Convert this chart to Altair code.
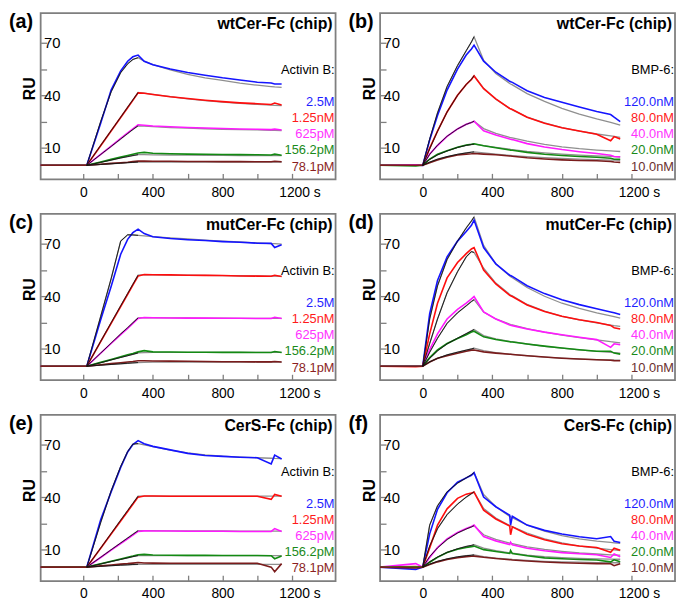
import altair as alt
import pandas as pd

# ---------------- time grids (s) ----------------
T_ACT = [-245, 20, 100, 160, 215, 255, 285, 315, 350, 400, 500, 600, 700, 800, 900, 1000, 1080, 1100, 1140]
T_BMP = [-245, -40, 0, 40, 85, 140, 200, 250, 280, 295, 350, 420, 500, 505, 515, 600, 700, 800, 900, 1000, 1080, 1100, 1135]

ACT_LABELS = ["2.5M", "1.25nM", "625pM", "156.2pM", "78.1pM"]
BMP_LABELS = ["120.0nM", "80.0nM", "40.0nM", "20.0nM", "10.0nM"]

# ---------------- (a) wtCer-Fc, Activin B ----------------
a_blue = [0, 0, 24, 43, 54, 59.5, 62, 63, 59.5, 57.5, 55, 53, 51.5, 50, 48.8, 47.5, 47, 46.5, 46.5]
a_red = [0, 0, 11.2, 19.6, 27.3, 32.9, 37.1, 41.4, 41.2, 40.5, 39.2, 38.2, 37.2, 36.4, 35.7, 35.2, 34.8, 35.6, 34.5]
a_mag = [0, 0, 6.3, 11, 15.4, 18.5, 20.9, 23.2, 22.9, 22.5, 22, 21.6, 21.3, 21, 20.8, 20.6, 20.4, 20.7, 20.2]
a_grn = [0, 0, 1.9, 3.4, 4.7, 5.6, 6.3, 7.0, 7.4, 6.9, 6.6, 6.4, 6.3, 6.2, 6.1, 6.0, 5.9, 6.4, 5.8]
a_drd = [0, 0, 0.6, 1.1, 1.5, 1.8, 2.1, 2.4, 2.4, 2.3, 2.3, 2.2, 2.2, 2.1, 2.1, 2.0, 2.0, 2.3, 2.0]
a_blue_fit = [0, 25, 42, 53, 58, 60.5, 61.5, 59.5, 57.5, 54.5, 52, 50, 48.5, 47, 45.8, 45, 44.8, 44.5]
a_red_fit = [0, 11.4, 19.8, 27.5, 33.2, 37.4, 41.6, 41.3, 40.6, 39.2, 38.0, 37.0, 36.1, 35.4, 34.8, 34.4, 34.3, 34.1]
a_mag_fit = [0, 6.2, 10.8, 15.1, 18.2, 20.5, 22.6, 22.4, 22.1, 21.6, 21.2, 20.9, 20.6, 20.4, 20.2, 20.0, 20.0, 19.9]
a_grn_fit = [0, 1.7, 3.0, 4.2, 5.0, 5.6, 6.1, 6.1, 6.0, 5.9, 5.8, 5.7, 5.7, 5.6, 5.6, 5.5, 5.5, 5.5]
a_drd_fit = [0, 0.5, 0.9, 1.2, 1.5, 1.7, 1.9, 1.9, 1.9, 1.9, 1.9, 1.9, 1.9, 1.9, 1.9, 1.9, 1.9, 1.9]

# ---------------- (b) wtCer-Fc, BMP-6 ----------------
b_blue = [0, 0.3, 0, 14.5, 28.5, 43, 55, 63, 66.5, 68.7, 59.5, 53.2, 48, 47.8, 47.4, 42.6, 38.8, 36, 33.3, 30.8, 29, 27.5, 25]
b_red = [0, 0, 0, 9.8, 19.5, 30.5, 40, 46.2, 49, 51.1, 43.8, 38, 32.5, 32.3, 31.9, 27.5, 24, 21.5, 19.6, 17.8, 14, 16.4, 15]
b_mag = [0, 0.2, 0, 6.5, 11.3, 16.5, 20.8, 23.5, 24.4, 25.2, 19.7, 17.3, 15, 14.9, 14.7, 12.4, 10.5, 9, 7.8, 6.8, 5.8, 5, 4.8]
b_grn = [0, -0.3, 0, 3.6, 6.3, 8.3, 10.3, 11.6, 12, 12.3, 11.2, 10, 8.8, 8.7, 8.6, 7.4, 6.3, 5.6, 5, 4.6, 4, 3.5, 3.5]
b_drd = [0, 0, 0, 1.5, 3.0, 4.6, 5.9, 6.4, 6.6, 6.8, 6.4, 6.0, 5.3, 5.3, 5.2, 4.3, 3.6, 3.1, 2.8, 2.6, 2.2, 1.9, 1.7]
b_blue_fit = [0, 15, 30, 45, 57, 65.5, 70.5, 73.5, 60, 52.5, 46.8, 46.5, 46, 41, 36.5, 32.5, 29.3, 26.5, 24.5, 24, 23]
b_red_fit = [0, 9.5, 19.5, 30.5, 40, 46.2, 49.2, 51.2, 44, 37.8, 32.5, 32.2, 31.7, 27.6, 24.2, 21.6, 19.6, 17.9, 16.8, 16.5, 16]
b_mag_fit = [0, 6.3, 11.5, 16.6, 20.8, 23.4, 24.5, 25.2, 21, 18.3, 16, 15.9, 15.7, 13.8, 12, 10.6, 9.5, 8.7, 8.2, 8.1, 7.9]
b_grn_fit = [0, 3.4, 6.0, 8.2, 10.2, 11.4, 11.9, 12.1, 11.2, 10.2, 9.2, 9.1, 9.0, 8.0, 7.1, 6.4, 5.8, 5.4, 5.1, 5.0, 4.9]
b_drd_fit = [0, 1.8, 3.5, 5.0, 6.3, 7.1, 7.5, 7.7, 7.1, 6.4, 5.7, 5.7, 5.6, 5.0, 4.4, 3.9, 3.5, 3.2, 3.0, 3.0, 2.9]

# ---------------- (c) mutCer-Fc, Activin B ----------------
c_blue = [0, 0, 26.5, 45.5, 64, 72.5, 76.3, 78.3, 75.8, 74, 73, 72.3, 71.8, 71.2, 70.8, 70.3, 70.2, 67.8, 69.4]
c_red = [0, 0, 14, 24.5, 34.1, 41.1, 46.3, 51.5, 52.4, 52.3, 52.2, 52.0, 51.9, 51.8, 51.6, 51.5, 51.4, 52.0, 51.3]
c_mag = [0, 0, 7.4, 13, 18.1, 21.6, 24.4, 27.3, 27.8, 27.7, 27.6, 27.5, 27.5, 27.4, 27.4, 27.3, 27.3, 28.0, 27.3]
c_grn = [0, 0, 2.2, 3.9, 5.4, 6.5, 7.3, 8.2, 8.9, 8.2, 8.1, 8.0, 8.0, 7.9, 7.9, 7.8, 7.8, 8.4, 7.8]
c_drd = [0, 0, 0.8, 1.5, 2.0, 2.4, 2.7, 3.1, 3.1, 3.0, 2.9, 2.8, 2.7, 2.6, 2.6, 2.5, 2.5, 2.7, 2.4]
c_blue_fit = [0, 28.5, 50, 71.5, 75.1, 75.0, 74.8, 74.5, 74.1, 73.4, 72.7, 72.1, 71.5, 71.0, 70.5, 70.1, 70.0, 69.8]
c_red_fit = [0, 14.2, 24.8, 34.5, 41.5, 46.8, 52.0, 52.3, 52.2, 52.1, 52.0, 51.9, 51.8, 51.7, 51.6, 51.5, 51.5, 51.4]
c_mag_fit = [0, 7.5, 13.2, 18.4, 22.0, 24.8, 27.6, 27.7, 27.7, 27.6, 27.6, 27.5, 27.5, 27.4, 27.4, 27.4, 27.3, 27.3]
c_grn_fit = [0, 2.0, 3.6, 5.0, 6.0, 6.8, 7.6, 7.8, 7.9, 7.9, 7.9, 7.9, 7.9, 7.9, 7.9, 7.9, 7.9, 7.9]
c_drd_fit = [0, 0.6, 1.0, 1.4, 1.7, 1.9, 2.1, 2.2, 2.3, 2.3, 2.3, 2.3, 2.3, 2.3, 2.3, 2.3, 2.3, 2.3]

# ---------------- (d) mutCer-Fc, BMP-6 ----------------
d_blue = [0, 0, 0, 30, 49, 62.5, 71.5, 77, 80.5, 83.5, 67.8, 58.5, 52, 51.8, 51.3, 46, 41.5, 38, 35.2, 32.8, 31, 30.5, 29.5]
d_red = [0, -0.3, 0, 18.5, 36, 50.5, 59.3, 64.3, 67, 67.8, 55, 47, 40.5, 40.3, 39.8, 35, 31.3, 28.5, 26.6, 25, 23.3, 22, 21.3]
d_mag = [0, 0, 0, 9.5, 18.5, 27, 32.5, 36, 38.5, 39.8, 31, 27, 23.5, 23.4, 23.2, 21.3, 19.5, 18, 16.6, 15.2, 10.8, 12.8, 12.3]
d_grn = [0, 0, 0, 5, 9.3, 13, 15.8, 18, 19.5, 20, 16.8, 15.3, 14, 13.9, 13.8, 12.7, 11.5, 10.4, 9.4, 8.6, 8.6, 7.5, 6.9]
d_drd = [0, 0, 0, 2.4, 4.6, 6, 7.4, 8.5, 9.2, 9.3, 8.2, 7.5, 6.8, 6.8, 6.7, 6, 5.3, 4.6, 4.1, 3.7, 3.4, 3.2, 3.1]
d_blue_fit = [0, 27, 46, 61, 71.5, 79, 83, 85.3, 69, 58.5, 51.5, 51.2, 50.6, 45, 40, 36, 33, 30.5, 28.8, 28.3, 27.5]
d_red_fit = [0, 13, 27, 42, 54, 62.5, 65.5, 65, 56, 47.5, 41, 40.7, 40.2, 35.3, 31.5, 28.5, 26.5, 24.8, 23.5, 23.2, 22.8]
d_mag_fit = [0, 8, 16, 24.5, 30.5, 34.5, 37, 38, 31, 27, 24, 23.8, 23.6, 21.5, 19.5, 17.8, 16.3, 15, 14, 13.8, 13.4]
d_grn_fit = [0, 4.5, 8.8, 12.8, 16, 18.6, 20.2, 21, 17.5, 15.6, 14.2, 14.1, 14.0, 12.7, 11.4, 10.3, 9.3, 8.5, 7.9, 7.8, 7.5]
d_drd_fit = [0, 2.5, 4.5, 6.5, 8.0, 9.2, 9.9, 10.3, 8.9, 7.8, 6.9, 6.9, 6.8, 6.0, 5.2, 4.6, 4.1, 3.8, 3.6, 3.5, 3.5]

# ---------------- (e) CerS-Fc, Activin B ----------------
e_blue = [0, 0, 27, 43, 57, 65.8, 70, 72.3, 70.5, 69, 67, 65, 63.8, 63.3, 62.8, 62.5, 59, 64, 61.8]
e_red = [0, 0, 10.8, 18.9, 26.4, 31.8, 35.9, 40.0, 40.6, 40.6, 40.5, 40.5, 40.5, 40.5, 40.5, 40.5, 38.7, 41.5, 40.5]
e_mag = [0, 0, 5.5, 9.7, 13.5, 16.2, 18.3, 20.4, 20.7, 20.6, 20.6, 20.5, 20.5, 20.5, 20.4, 20.4, 20.4, 22.0, 20.3]
e_grn = [0, 0, 1.9, 3.4, 4.7, 5.6, 6.3, 7.1, 7.3, 6.9, 6.8, 6.7, 6.7, 6.6, 6.6, 6.6, 6.5, 4.8, 6.3]
e_drd = [0, 0, 0.7, 1.2, 1.7, 2.0, 2.3, 2.6, 2.4, 2.3, 2.2, 2.2, 2.2, 2.2, 2.2, 2.2, 0.0, -2.6, 2.0]
e_blue_fit = [0, 25.5, 43.5, 57.5, 66, 70.3, 70.6, 69.9, 68.9, 66.8, 65.3, 64.2, 63.4, 62.9, 62.5, 62.2, 62.1, 62.0]
e_red_fit = [0, 10.9, 19.2, 26.8, 32.3, 36.4, 40.5, 40.6, 40.6, 40.6, 40.6, 40.6, 40.6, 40.6, 40.6, 40.6, 40.6, 40.6]
e_mag_fit = [0, 5.6, 9.9, 13.8, 16.6, 18.7, 20.8, 20.8, 20.8, 20.7, 20.7, 20.7, 20.7, 20.6, 20.6, 20.6, 20.6, 20.6]
e_grn_fit = [0, 1.8, 3.2, 4.4, 5.3, 6.0, 6.6, 6.6, 6.6, 6.6, 6.6, 6.6, 6.6, 6.6, 6.6, 6.6, 6.6, 6.6]
e_drd_fit = [0, 0.5, 0.8, 1.1, 1.3, 1.5, 1.6, 1.6, 1.6, 1.6, 1.6, 1.6, 1.6, 1.6, 1.6, 1.6, 1.6, 1.6]

# ---------------- (f) CerS-Fc, BMP-6 ----------------
f_blue = [0, -1.3, 0, 19, 33, 42.5, 48.5, 51, 52.5, 54, 40, 34.5, 29.6, 24, 29, 24, 21, 18.9, 17.4, 16.2, 17.5, 14.8, 14.1]
f_red = [0, 0.3, 0, 11, 24, 33.3, 39.3, 41.7, 42.3, 42.8, 32.5, 27.5, 23.5, 18.5, 23, 18.8, 15.6, 13.4, 12.1, 11.2, 8.5, 10.8, 9.6]
f_mag = [0, 2.0, 0, 5.5, 11.2, 16.2, 19.8, 22.1, 23.2, 24, 17.5, 15, 12.9, 14.2, 12.7, 10.8, 9.4, 8.3, 7.6, 7.1, 5.5, 7.5, 5.9]
f_grn = [0, 0, 0, 2.8, 5.6, 8.3, 10.2, 11.2, 11.7, 12, 10, 8.9, 7.8, 9.5, 7.7, 6.5, 5.3, 4.8, 4.4, 4.1, 3.0, 4.2, 3.0]
f_drd = [0, -0.5, 0, 1.5, 3.0, 4.3, 5.4, 6.0, 6.2, 6.3, 5.6, 4.9, 4.2, 4.2, 4.1, 3.5, 2.9, 2.5, 2.2, 2.0, 1.9, 0.8, 1.9]
f_blue_fit = [0, 24, 35, 43, 48, 51, 52.8, 54, 41.5, 34.5, 29, 28.7, 28.2, 24, 20.5, 18, 16.2, 14.9, 14.1, 13.9, 13.6]
f_red_fit = [0, 12, 22, 30, 36, 40, 42, 43, 33.5, 28, 23.8, 23.6, 23.2, 19.5, 16.2, 13.8, 12, 10.8, 10, 9.8, 9.5]
f_mag_fit = [0, 6, 11, 15.8, 19.5, 21.8, 23, 23.7, 18.5, 15.8, 13.7, 13.6, 13.4, 11.6, 10.1, 9, 8.1, 7.5, 7, 6.9, 6.8]
f_grn_fit = [0, 3.0, 5.8, 8.4, 10.5, 11.8, 12.4, 12.8, 10.8, 9.4, 8.2, 8.1, 8.0, 6.9, 6.0, 5.4, 5.0, 4.7, 4.6, 4.5, 4.5]
f_drd_fit = [0, 1.7, 3.3, 4.7, 5.9, 6.5, 6.8, 7.0, 6.0, 5.2, 4.5, 4.5, 4.4, 3.8, 3.3, 3.0, 2.8, 2.6, 2.5, 2.5, 2.5]

# ---------------- styling ----------------
LINE_COLORS = ["#1414ff", "#ff0d0d", "#ff1aff", "#138a13", "#7a1c1c"]
ACT_TEXT_COLORS = ["#1f1fff", "#ff1a1a", "#ff33ff", "#1a8a1a", "#8b1f1f"]
BMP_TEXT_COLORS = ["#1f1fff", "#ff1a1a", "#ff33ff", "#1a8a1a", "#6b3030"]
FONT = "Liberation Sans"
W, H = 298, 168
FRAME = "#7f7f7f"


def make_panel(letter, title, header, labels, text_colors, T, series, fits, fit_start):
    keys = ["s0", "s1", "s2", "s3", "s4"]
    rows = []
    for key, vals in zip(keys, series):
        for t, v in zip(T, vals):
            rows.append({"t": t, "v": v, "s": key})
    df = pd.DataFrame(rows)
    frows = []
    for key, vals in zip(keys, fits):
        for t, v in zip(T[fit_start:], vals):
            frows.append({"t": t, "v": v, "s": key})
    fdf = pd.DataFrame(frows)

    x = alt.X(
        "t:Q",
        scale=alt.Scale(domain=[-245, 1450], nice=False, zero=False),
        axis=alt.Axis(
            values=[0, 200, 400, 600, 800, 1000, 1200],
            labelExpr="datum.value == 1200 ? '1200 s' : (datum.value % 400 == 0 ? format(datum.value, 'd') : '')",
            tickSize=6, offset=-6, tickColor=FRAME, tickWidth=1.3,
            labelFontSize=14, labelPadding=6, labelColor="black", labelFont=FONT,
            labelFlush=False, labelOverlap=False, domain=False, grid=False, title=None,
            labelOffset={"condition": {"test": "datum.value == 1200", "value": 7.5}, "value": 0},
        ),
    )
    y = alt.Y(
        "v:Q",
        scale=alt.Scale(domain=[-8, 87], nice=False, zero=False),
        axis=alt.Axis(
            values=[10, 25, 40, 55, 70],
            labelExpr="datum.value % 30 == 10 ? format(datum.value, 'd') : ''",
            tickSize=6, offset=-6, tickColor=FRAME, tickWidth=1.3,
            labelAlign="left", labelBaseline="middle", labelPadding=-3,
            labelFontSize=15, labelColor="black", labelFont=FONT,
            labelOverlap=False, labelFlush=False, domain=False, grid=False,
            title="RU", titleFontSize=16, titleFontWeight="bold", titleFont=FONT,
            titleColor="black", titleX=-12, titleY=76, titleAlign="center",
            titleBaseline="alphabetic", titleAngle=270,
        ),
    )
    color = alt.Color("s:N", scale=alt.Scale(domain=keys, range=LINE_COLORS), legend=None)

    gray = alt.Chart(fdf).mark_line(color="#8f8f8f", strokeWidth=1.3).encode(x=x, y=y, detail="s:N")
    data = alt.Chart(df).mark_line(strokeWidth=1.6).encode(x=x, y=y, color=color)
    black = (
        alt.Chart(fdf)
        .transform_filter("datum.t <= 320")
        .mark_line(color="#111111", strokeWidth=0.9)
        .encode(x=x, y=y, detail="s:N")
    )

    dummy = pd.DataFrame({"d": [0]})

    def txt(s, xv, yv, align, baseline, size, weight, col):
        return alt.Chart(dummy).mark_text(
            text=s, align=align, baseline=baseline, fontSize=size,
            fontWeight=weight, color=col, font=FONT,
        ).encode(x=alt.value(xv), y=alt.value(yv))

    texts = [
        txt(letter, -32, -1, "left", "top", 20, "bold", "black"),
        txt(title, W - 3, 11, "right", "middle", 16, "bold", "black"),
        txt(header, W - 1, 58, "right", "middle", 13, "normal", "black"),
    ]
    for k, (lab, col) in enumerate(zip(labels, text_colors)):
        texts.append(txt(lab, W - 1, 90 + 16.3 * k, "right", "middle", 13, "normal", col))

    return alt.layer(gray, data, black, *texts).properties(width=W, height=H)


panels = [
    make_panel("(a)", "wtCer-Fc (chip)", "Activin B:", ACT_LABELS, ACT_TEXT_COLORS, T_ACT,
               [a_blue, a_red, a_mag, a_grn, a_drd],
               [a_blue_fit, a_red_fit, a_mag_fit, a_grn_fit, a_drd_fit], 1),
    make_panel("(b)", "wtCer-Fc (chip)", "BMP-6:", BMP_LABELS, BMP_TEXT_COLORS, T_BMP,
               [b_blue, b_red, b_mag, b_grn, b_drd],
               [b_blue_fit, b_red_fit, b_mag_fit, b_grn_fit, b_drd_fit], 2),
    make_panel("(c)", "mutCer-Fc (chip)", "Activin B:", ACT_LABELS, ACT_TEXT_COLORS, T_ACT,
               [c_blue, c_red, c_mag, c_grn, c_drd],
               [c_blue_fit, c_red_fit, c_mag_fit, c_grn_fit, c_drd_fit], 1),
    make_panel("(d)", "mutCer-Fc (chip)", "BMP-6:", BMP_LABELS, BMP_TEXT_COLORS, T_BMP,
               [d_blue, d_red, d_mag, d_grn, d_drd],
               [d_blue_fit, d_red_fit, d_mag_fit, d_grn_fit, d_drd_fit], 2),
    make_panel("(e)", "CerS-Fc (chip)", "Activin B:", ACT_LABELS, ACT_TEXT_COLORS, T_ACT,
               [e_blue, e_red, e_mag, e_grn, e_drd],
               [e_blue_fit, e_red_fit, e_mag_fit, e_grn_fit, e_drd_fit], 1),
    make_panel("(f)", "CerS-Fc (chip)", "BMP-6:", BMP_LABELS, BMP_TEXT_COLORS, T_BMP,
               [f_blue, f_red, f_mag, f_grn, f_drd],
               [f_blue_fit, f_red_fit, f_mag_fit, f_grn_fit, f_drd_fit], 2),
]

chart = (
    alt.concat(*panels, columns=2, spacing={"row": 35, "column": 45}, bounds="flush")
    .properties(padding=0, background="white")
    .configure_view(stroke=FRAME, strokeWidth=1.8)
)

chart.save("out.html", embed_options={"renderer": "svg", "actions": False})
